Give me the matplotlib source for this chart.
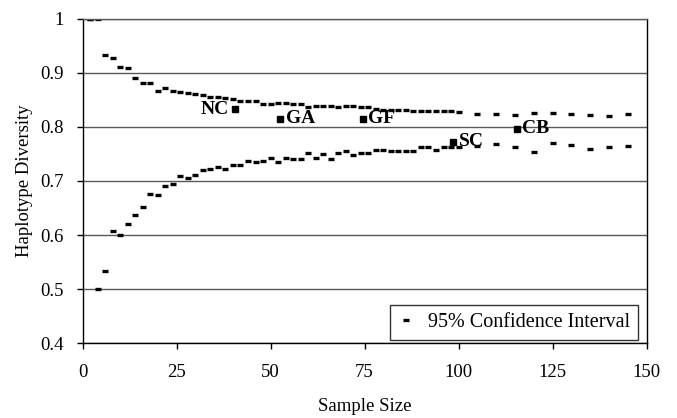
import matplotlib
matplotlib.use("Agg")
import matplotlib.pyplot as plt
import numpy as np

# sample sizes for the CI bounds
n_ci = list(range(2, 101, 2)) + [105, 110, 115, 120, 125, 130, 135, 140, 145]
upper = [1.0, 1.0, 0.933, 0.928, 0.910, 0.909, 0.890, 0.882, 0.882, 0.867,
         0.872, 0.867, 0.864, 0.862, 0.861, 0.859, 0.856, 0.856, 0.854, 0.852,
         0.848, 0.848, 0.848, 0.843, 0.842, 0.845, 0.845, 0.842, 0.842, 0.837,
         0.839, 0.839, 0.839, 0.836, 0.839, 0.839, 0.836, 0.836, 0.833, 0.832,
         0.832, 0.831, 0.831, 0.830, 0.830, 0.830, 0.829, 0.829, 0.829, 0.828,
         0.824, 0.824, 0.822, 0.826, 0.825, 0.824, 0.822, 0.820, 0.824]
lower = [1.0, 0.501, 0.534, 0.608, 0.600, 0.621, 0.638, 0.651, 0.676, 0.674,
         0.690, 0.694, 0.709, 0.706, 0.712, 0.720, 0.722, 0.725, 0.722, 0.730,
         0.730, 0.737, 0.736, 0.737, 0.743, 0.736, 0.743, 0.740, 0.740, 0.751,
         0.743, 0.750, 0.740, 0.751, 0.755, 0.748, 0.752, 0.752, 0.757, 0.757,
         0.756, 0.756, 0.756, 0.756, 0.762, 0.762, 0.757, 0.762, 0.762, 0.762,
         0.765, 0.768, 0.763, 0.754, 0.770, 0.767, 0.759, 0.763, 0.764]

# observed populations
pops = ["NC", "GA", "GF", "SC", "CB"]
pop_n = [40.5, 52.5, 74.5, 98.5, 115.5]
pop_h = [0.833, 0.815, 0.815, 0.773, 0.797]

plt.rcParams["font.family"] = ["Liberation Serif", "DejaVu Serif"]

fig = plt.figure(figsize=(6.77, 4.18), dpi=100)
ax = fig.add_axes([0.122, 0.179, 0.833, 0.776])

ax.plot(n_ci, upper, ls="none", marker="_", ms=5, mew=2.4, color="black",
        label="95% Confidence Interval")
ax.plot(n_ci, lower, ls="none", marker="_", ms=5, mew=2.4, color="black")
ax.plot(pop_n, pop_h, ls="none", marker="s", ms=4.5, color="black")

for name, x, y in zip(pops, pop_n, pop_h):
    if name == "NC":
        ax.text(x - 1.5, y, name, ha="right", va="center", fontsize=14,
                fontweight="bold")
    else:
        ax.text(x + 1.5, y, name, ha="left", va="center", fontsize=14,
                fontweight="bold")

ax.set_xlim(0, 150)
ax.set_ylim(0.4, 1.0)
ax.set_xticks([0, 25, 50, 75, 100, 125, 150])
ax.set_yticks([0.4, 0.5, 0.6, 0.7, 0.8, 0.9, 1.0])
ax.set_yticklabels(["0.4", "0.5", "0.6", "0.7", "0.8", "0.9", "1"])
ax.yaxis.grid(True, color="0.35", lw=1.0)
ax.set_axisbelow(True)
ax.tick_params(direction="out", length=4, width=1, labelsize=13.5)
ax.tick_params(axis="x", pad=11)
ax.tick_params(axis="y", pad=9.5)
for s in ax.spines.values():
    s.set_color("black")
    s.set_linewidth(1.0)
ax.spines["top"].set_color("0.35")

ax.set_xlabel("Sample Size", fontsize=13.5, labelpad=12)
ax.set_ylabel("Haplotype Diversity", fontsize=13.5, labelpad=5)

leg = ax.legend(loc="lower right", fontsize=14.5, frameon=True, fancybox=False,
                edgecolor="black", handlelength=0.8, handletextpad=0.7,
                borderpad=0.4, borderaxespad=0, bbox_to_anchor=(0.985, 0.01))
leg.get_frame().set_linewidth(1.0)

fig.savefig("out.png", dpi=100)
